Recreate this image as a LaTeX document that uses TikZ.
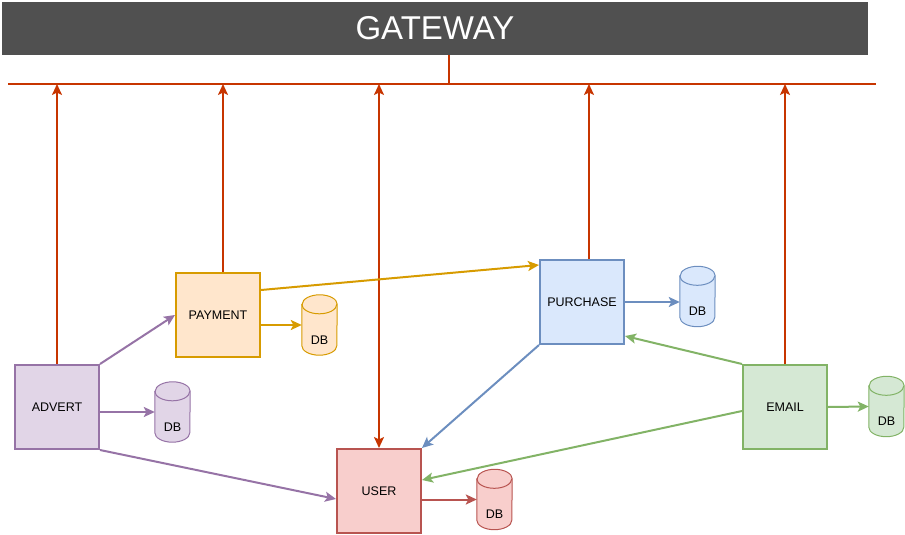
\documentclass[tikz,border=0pt]{standalone}
\usepackage{fontspec}
\setmainfont{Liberation Sans}
\usetikzlibrary{arrows.meta, positioning, backgrounds}
\definecolor{busred}{HTML}{C73500}
\definecolor{gwgray}{HTML}{505050}
\definecolor{advfill}{HTML}{E1D5E7}\definecolor{advline}{HTML}{9673A6}
\definecolor{payfill}{HTML}{FFE6CC}\definecolor{payline}{HTML}{D79B00}
\definecolor{purfill}{HTML}{DAE8FC}\definecolor{purline}{HTML}{6C8EBF}
\definecolor{emlfill}{HTML}{D5E8D4}\definecolor{emlline}{HTML}{82B366}
\definecolor{usrfill}{HTML}{F8CECC}\definecolor{usrline}{HTML}{B85450}

\begin{document}
\begin{tikzpicture}[
    x=1pt, y=-1pt,
    svc/.style={draw, line width=2pt, minimum size=84pt, inner sep=0pt, font=\fontsize{12.5}{14}\selectfont},
    db/.style={minimum width=35pt, minimum height=60pt, inner sep=0pt,
        label={[font=\fontsize{12.5}{14}\selectfont, yshift=-15pt]center:DB}},
    tip/.tip={Stealth[length=11pt, width=10pt, inset=2.5pt]},
    arrow/.style={-tip, line width=2pt},
    bus/.style={busred, line width=2pt}
]
    \useasboundingbox (0,0) rectangle (905,535);

    % gateway and bus
    \node[fill=gwgray, minimum width=866pt, minimum height=53pt, inner sep=0pt,
        text=white, font=\fontsize{33}{38}\selectfont] (gateway) at (435,28.5) {GATEWAY};
    \coordinate (busL) at (8,84);
    \coordinate (busR) at (876,84);
    \coordinate (tap) at (449,84);
    \draw[bus] (busL) -- (busR);
    \draw[bus] (tap |- gateway.south) -- (tap);

    % services
    \node[svc, fill=advfill, draw=advline] (advert) at (57,407) {ADVERT};
    \node[svc, fill=payfill, draw=payline] (payment) at (218,315) {PAYMENT};
    \node[svc, fill=purfill, draw=purline] (purchase) at (582,302) {PURCHASE};
    \node[svc, fill=emlfill, draw=emlline] (email) at (785,407) {EMAIL};
    \node[svc, fill=usrfill, draw=usrline] (user) at (379,491) {USER};

    % databases
    \node[db] (advdb) at (172.5,412) {};
    \node[db] (paydb) at (319.5,325) {};
    \node[db] (purdb) at (697.5,296.5) {};
    \node[db] (emldb) at (886.5,406.5) {};
    \node[db] (usrdb) at (494.5,499.5) {};
    \begin{scope}[on background layer]
        \foreach \d/\c in {advdb/adv, paydb/pay, purdb/pur, emldb/eml, usrdb/usr} {
            \filldraw[fill=\c fill, draw=\c line, line width=1pt]
                ([yshift=-9.5pt]\d.north west) -- ([yshift=9.5pt]\d.south west)
                arc[start angle=180, end angle=360, x radius=17.5pt, y radius=9.5pt]
                -- ([yshift=-9.5pt]\d.north east)
                arc[start angle=0, end angle=180, x radius=17.5pt, y radius=9.5pt] -- cycle;
            \draw[\c line, line width=1pt] ([yshift=-9.5pt]\d.north west)
                arc[start angle=180, end angle=360, x radius=17.5pt, y radius=9.5pt];
        }
    \end{scope}

    % links to the bus
    \draw[arrow, busred] (advert.north) -- (advert.north |- busL);
    \draw[arrow, busred] ([xshift=5pt]payment.north) -- ([xshift=5pt]payment.north |- busL);
    \draw[arrow, busred] ([xshift=7pt]purchase.north) -- ([xshift=7pt]purchase.north |- busL);
    \draw[arrow, busred] (email.north) -- (email.north |- busL);
    \draw[arrow, busred, tip-tip] (user.north |- busL) -- (user.north);

    % service calls
    \draw[arrow, advline] (advert.north east) -- (payment.west);
    \draw[arrow, advline] (advert.east |- advdb.center) -- (advdb.west);
    \draw[arrow, advline] (advert.south east) -- ([yshift=-8pt]user.west);
    \draw[arrow, payline] ([yshift=25pt]payment.east) -- ([yshift=37pt]purchase.west);
    \draw[arrow, payline] (payment.east |- paydb.center) -- (paydb.west);
    \draw[arrow, purline] (purchase.east) -- (purchase.east -| purdb.west);
    \draw[arrow, purline] (purchase.south west) -- (user.north east);
    \draw[arrow, emlline] (email.north west) -- ([yshift=9pt]purchase.south east);
    \draw[arrow, emlline] ([yshift=-4pt]email.west) -- ([yshift=11pt]user.east);
    \draw[arrow, emlline] (email.east) -- (emldb.west);
    \draw[arrow, usrline] (user.east |- usrdb.center) -- (usrdb.west);
\end{tikzpicture}
\end{document}
